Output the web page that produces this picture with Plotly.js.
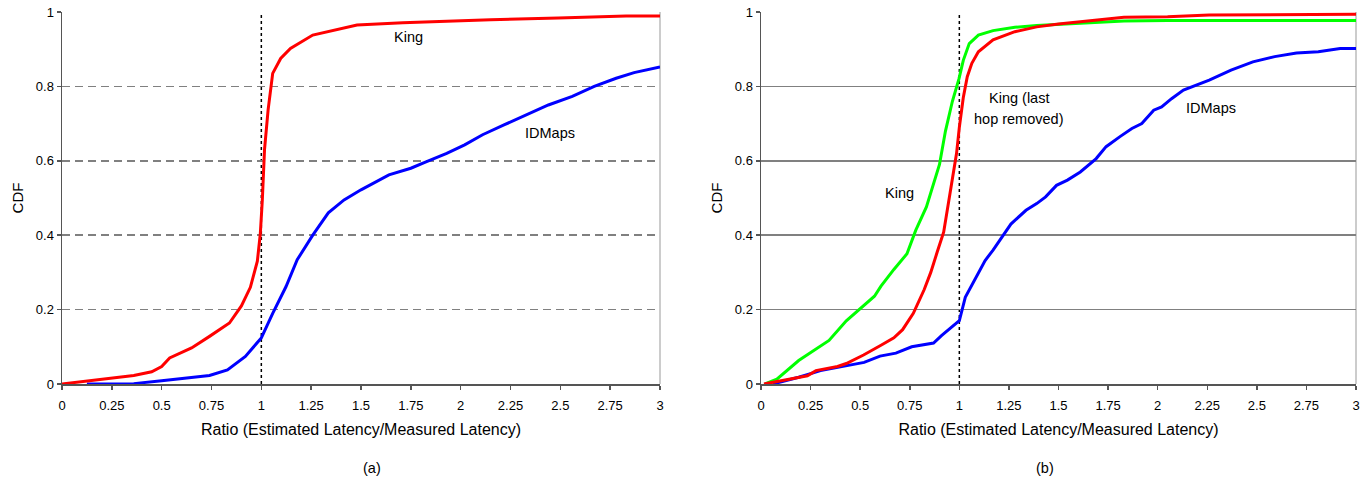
<!DOCTYPE html>
<html>
<head>
<meta charset="utf-8">
<script src="https://cdn.plot.ly/plotly-3.0.1.min.js"></script>
<style>
html,body{margin:0;padding:0;background:#fff;}
#chart{width:1369px;height:487px;}
</style>
</head>
<body>
<div id="chart"></div>
<script>
// ---- Data: panel (a) ----
const kingA_x = [0, 0.14, 0.25, 0.36, 0.45, 0.5, 0.54, 0.65, 0.74, 0.84, 0.9, 0.945, 0.98, 0.995, 1.005, 1.016, 1.034, 1.057, 1.097, 1.146, 1.258, 1.37, 1.48, 1.71, 1.93, 2.15, 2.49, 2.83, 3.01];
const kingA_y = [0, 0.009, 0.016, 0.023, 0.033, 0.047, 0.07, 0.097, 0.128, 0.164, 0.21, 0.26, 0.33, 0.405, 0.495, 0.63, 0.737, 0.835, 0.875, 0.902, 0.938, 0.952, 0.965, 0.971, 0.976, 0.979, 0.984, 0.989, 0.989];
const idmapsA_x = [0.125, 0.36, 0.5, 0.63, 0.74, 0.83, 0.92, 1.0, 1.057, 1.124, 1.18, 1.258, 1.336, 1.415, 1.5, 1.64, 1.75, 1.82, 1.93, 2.02, 2.11, 2.22, 2.33, 2.44, 2.56, 2.67, 2.78, 2.87, 3.0];
const idmapsA_y = [0, 0.001, 0.009, 0.016, 0.023, 0.038, 0.074, 0.124, 0.19, 0.262, 0.334, 0.40, 0.46, 0.495, 0.522, 0.562, 0.58, 0.596, 0.62, 0.643, 0.67, 0.697, 0.723, 0.75, 0.773, 0.80, 0.822, 0.837, 0.852];

// ---- Data: panel (b) ----
const kingB_x = [0.02, 0.08, 0.19, 0.277, 0.343, 0.43, 0.496, 0.572, 0.605, 0.67, 0.736, 0.78, 0.834, 0.867, 0.9, 0.93, 0.965, 0.998, 1.02, 1.05, 1.096, 1.17, 1.28, 1.39, 1.61, 1.83, 2.05, 3.0];
const kingB_y = [0, 0.013, 0.063, 0.094, 0.117, 0.17, 0.20, 0.236, 0.263, 0.308, 0.35, 0.413, 0.476, 0.53, 0.59, 0.68, 0.76, 0.82, 0.87, 0.915, 0.938, 0.95, 0.959, 0.964, 0.971, 0.976, 0.977, 0.977];
const kingLastHop_x = [0.015, 0.124, 0.234, 0.277, 0.386, 0.43, 0.517, 0.605, 0.67, 0.714, 0.768, 0.823, 0.856, 0.888, 0.921, 0.943, 0.965, 0.986, 1.0, 1.02, 1.04, 1.063, 1.096, 1.17, 1.28, 1.39, 1.5, 1.61, 1.83, 2.05, 2.26, 3.0];
const kingLastHop_y = [0, 0.011, 0.022, 0.036, 0.047, 0.055, 0.078, 0.104, 0.124, 0.146, 0.19, 0.254, 0.30, 0.354, 0.408, 0.48, 0.55, 0.62, 0.69, 0.77, 0.826, 0.862, 0.893, 0.925, 0.947, 0.96, 0.968, 0.974, 0.986, 0.987, 0.992, 0.994];
const idmapsB_x = [0.06, 0.19, 0.3, 0.41, 0.52, 0.6, 0.68, 0.76, 0.87, 0.91, 0.95, 1.0, 1.03, 1.085, 1.13, 1.17, 1.216, 1.26, 1.336, 1.39, 1.435, 1.49, 1.545, 1.61, 1.69, 1.74, 1.81, 1.87, 1.92, 1.98, 2.02, 2.07, 2.13, 2.18, 2.26, 2.37, 2.48, 2.59, 2.7, 2.81, 2.92, 3.0];
const idmapsB_y = [0, 0.018, 0.036, 0.048, 0.058, 0.075, 0.083, 0.10, 0.11, 0.13, 0.148, 0.17, 0.233, 0.287, 0.332, 0.36, 0.395, 0.43, 0.467, 0.485, 0.503, 0.534, 0.548, 0.57, 0.606, 0.638, 0.665, 0.687, 0.70, 0.736, 0.745, 0.767, 0.79, 0.80, 0.817, 0.844, 0.866, 0.88, 0.89, 0.893, 0.902, 0.902];

// ---- Tick labels ----
const xTickVals = [0, 0.25, 0.5, 0.75, 1, 1.25, 1.5, 1.75, 2, 2.25, 2.5, 2.75, 3];
const xTickText = ["0", "0.25", "0.5", "0.75", "1", "1.25", "1.5", "1.75", "2", "2.25", "2.5", "2.75", "3"];
const yTickVals = [0, 0.2, 0.4, 0.6, 0.8, 1];
const yTickText = ["0", "0.2", "0.4", "0.6", "0.8", "1"];
const refRatio = 1;
const xTitle = "Ratio (Estimated Latency/Measured Latency)";

const FONT = "Liberation Sans, Arial, sans-serif";
const RED = "#ff0000", BLUE = "#0000ff", GREEN = "#00ff00";

function tr(x, y, color, xa, ya, name) {
  return {x: x, y: y, type: "scatter", mode: "lines", name: name, xaxis: xa, yaxis: ya,
          line: {color: color, width: 3}, hoverinfo: "skip"};
}

const traces = [
  tr(idmapsA_x, idmapsA_y, BLUE, "x", "y", "IDMaps"),
  tr(kingA_x, kingA_y, RED, "x", "y", "King"),
  tr(idmapsB_x, idmapsB_y, BLUE, "x2", "y2", "IDMaps"),
  tr(kingB_x, kingB_y, GREEN, "x2", "y2", "King"),
  tr(kingLastHop_x, kingLastHop_y, RED, "x2", "y2", "King (last hop removed)")
];

function xax(domain, anchor) {
  return {
    domain: domain, anchor: anchor, range: [0, 3], tickmode: "array",
    tickvals: xTickVals, ticktext: xTickText, ticks: "outside", ticklen: 4, tickwidth: 1.5,
    tickcolor: "#555", showline: true, linecolor: "#555", linewidth: 1.5, showgrid: false,
    zeroline: false, tickfont: {family: FONT, size: 13, color: "#000"}, ticklabelstandoff: 5,
    title: {text: xTitle, font: {family: FONT, size: 16, color: "#000"}, standoff: 11},
    fixedrange: true
  };
}
function yax(anchor, dash) {
  return {
    domain: [0, 1], anchor: anchor, range: [0, 1], tickmode: "array",
    tickvals: yTickVals, ticktext: yTickText, ticks: "outside", ticklen: 4, tickwidth: 1.5,
    tickcolor: "#555", showline: true, linecolor: "#555", linewidth: 1.5, showgrid: true,
    gridcolor: "#808080", gridwidth: 1.6, griddash: dash, zeroline: false,
    tickfont: {family: FONT, size: 13, color: "#000"},
    title: {text: "CDF", font: {family: FONT, size: 15, color: "#000"}, standoff: 8},
    fixedrange: true
  };
}

const annFont = {family: FONT, size: 14.5, color: "#000"};
const layout = {
  width: 1369, height: 487,
  margin: {l: 0, r: 0, t: 12, b: 103},
  paper_bgcolor: "#fff", plot_bgcolor: "#fff",
  showlegend: false,
  font: {family: FONT},
  xaxis: xax([62/1369, 660/1369], "y"),
  yaxis: yax("x", "8px,5px"),
  xaxis2: xax([761/1369, 1356/1369], "y2"),
  yaxis2: yax("x2", "solid"),
  shapes: [
    {type: "line", xref: "x", yref: "y", x0: refRatio, x1: refRatio, y0: 0, y1: 1, line: {color: "#000", width: 1.5, dash: "dot"}, layer: "below"},
    {type: "line", xref: "x2", yref: "y2", x0: refRatio, x1: refRatio, y0: 0, y1: 1, line: {color: "#000", width: 1.5, dash: "dot"}, layer: "below"},
    {type: "line", xref: "x domain", yref: "y domain", x0: 1, x1: 1, y0: 0, y1: 1, line: {color: "#bbbbbb", width: 1.5}, layer: "below"},
    {type: "line", xref: "x2 domain", yref: "y2 domain", x0: 1, x1: 1, y0: 0, y1: 1, line: {color: "#bbbbbb", width: 1.5}, layer: "below"}
  ],
  annotations: [
    {xref: "x", yref: "y", x: 1.737, y: 0.933, text: "King", showarrow: false, font: annFont},
    {xref: "x", yref: "y", x: 2.45, y: 0.675, text: "IDMaps", showarrow: false, font: annFont},
    {xref: "x2", yref: "y2", x: 1.30, y: 0.769, text: "King (last", showarrow: false, font: annFont},
    {xref: "x2", yref: "y2", x: 1.30, y: 0.712, text: "hop removed)", showarrow: false, font: annFont},
    {xref: "x2", yref: "y2", x: 2.27, y: 0.742, text: "IDMaps", showarrow: false, font: annFont},
    {xref: "x2", yref: "y2", x: 0.696, y: 0.513, text: "King", showarrow: false, font: annFont},
    {xref: "paper", yref: "paper", x: 361/1369, y: -0.225, yanchor: "middle", text: "(a)", showarrow: false, font: annFont},
    {xref: "paper", yref: "paper", x: 1056/1369, y: -0.225, yanchor: "middle", text: "(b)", showarrow: false, font: annFont}
  ]
};

Plotly.newPlot("chart", traces, layout, {staticPlot: true, displayModeBar: false});
</script>
</body>
</html>
